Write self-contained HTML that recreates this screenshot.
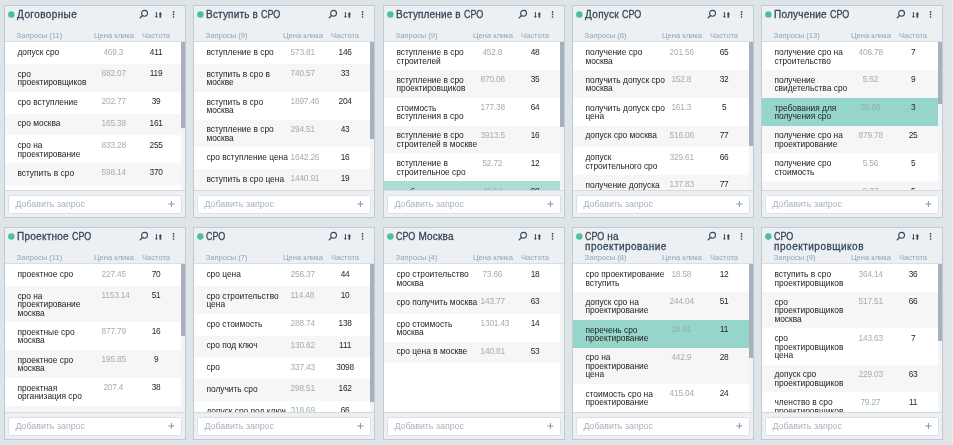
<!DOCTYPE html>
<html lang="ru"><head><meta charset="utf-8"><title>Группы запросов</title>
<style>
html,body{margin:0;padding:0}
body{width:953px;height:445px;overflow:hidden;background:#dde5e9;font-family:"Liberation Sans",sans-serif;position:relative}
.card{position:absolute;box-sizing:border-box;width:182px;height:213px;border:1px solid #c1c9d2;background:#edf0f2;overflow:hidden}
.dot{position:absolute;left:2px;top:4px}
.title{position:absolute;left:12.1px;top:4px;width:125px;font-size:10px;line-height:10.4px;color:#33465a;-webkit-text-stroke:0.27px #33465a;white-space:nowrap}
.c{display:inline-block;transform:scaleX(0.9);transform-origin:0 50%;margin-right:-2.15px}
.ic{position:absolute;left:132px;top:1px}
.hd{position:absolute;left:0;top:0;right:0;height:35.3px;border-bottom:1px solid #d8dee4;font-size:7.6px;color:#95a2b2}
.hd span{position:absolute;top:24.6px;line-height:9px;white-space:nowrap}
.h1{left:11.6px}
.h2{left:79px;width:60px;text-align:center}
.h3{left:121px;width:60px;text-align:center}
.list{position:absolute;left:0;top:36.3px;right:3.6px;height:147.7px;background:#fff;overflow:hidden}
.row{display:flex;align-items:flex-start;box-sizing:border-box;background:#fff;font-size:8.4px;line-height:8.4px;color:#222;padding:5.5px 0 5.2px 0;min-height:21.75px}
.row.alt{background:#f6f6f6}
.row.hl{background:#95d5ca}
.row.hl2{background:#a9dcd5}
.row.last{padding-top:6.3px}
.q{padding-top:0.3px;margin-left:12.4px;width:84.15px;white-space:nowrap}
.p{width:23.7px;text-align:center;white-space:nowrap;color:#a1aeae;margin-left:0;font-size:8.3px;letter-spacing:-0.18px;margin-top:-0.3px}
.f{width:40px;text-align:center;margin-left:10.9px;color:#262626;font-size:8.3px;letter-spacing:-0.18px;margin-top:-0.3px}
.row.hl .p,.row.hl2 .p{color:#8db3ab}
.thumb{position:absolute;right:0;top:36.3px;width:3.6px;background:#a7b0bc}
.track{position:absolute;right:0;top:36.3px;width:3.6px;height:147.7px;background:#f2f3f5}
.ft{position:absolute;left:0;right:0;top:184px;bottom:0;border-top:1px solid #d2d9df}
.inp{position:absolute;left:3.4px;right:2.7px;top:4px;height:18.6px;box-sizing:border-box;border:1px solid #dbe0e6;border-radius:2.5px;background:#fff}
.ph{position:absolute;left:6px;top:3.4px;font-size:8.85px;line-height:10px;color:#a9b1ba}
.plus{position:absolute;left:157.7px;top:3.9px}
.edge{position:absolute;right:0;top:0;width:1.5px;height:445px;background:#e7ecf0}
</style></head><body>
<div class="card" style="left:4px;top:5px;width:182px">
<svg class="dot" width="10" height="10" viewBox="0 0 10 10"><circle cx="4.35" cy="4.47" r="3.25" fill="#4fbf9a"/></svg><div class="title"><span style="letter-spacing:.4px">Договорные</span></div><svg class="ic" viewBox="0 0 44 16" width="44" height="16"><g fill="none" stroke="#34475c"><circle cx="7.56" cy="6.32" r="2.95" stroke-width="1.05"/><path d="M5.3 8.7 L3.2 10.9" stroke-width="1.3" stroke-linecap="round"/></g><g fill="#34475c"><path d="M18.9 5.1h1v4.1h1l-1.5 1.8-1.5-1.8h1z"/><path d="M22.5 10.7h1.7V7.3h0.9l-1.75-2.2-1.75 2.2h0.9z"/><rect x="35.8" y="4.05" width="1.45" height="1.6" rx="0.3"/><rect x="35.8" y="6.55" width="1.45" height="1.6" rx="0.3"/><rect x="35.8" y="9.15" width="1.45" height="1.6" rx="0.3"/></g></svg>
<div class="hd"><span class="h1">Запросы (11)</span><span class="h2">Цена клика</span><span class="h3">Частота</span></div>
<div class="list">
<div class="row"><div class="q">допуск сро</div><div class="p">469.3</div><div class="f">411</div></div>
<div class="row alt"><div class="q">сро<br>проектировщиков</div><div class="p">682.07</div><div class="f">119</div></div>
<div class="row"><div class="q">сро вступление</div><div class="p">202.77</div><div class="f">39</div></div>
<div class="row alt"><div class="q">сро москва</div><div class="p">165.38</div><div class="f">161</div></div>
<div class="row"><div class="q">сро на<br>проектирование</div><div class="p">833.28</div><div class="f">255</div></div>
<div class="row alt"><div class="q">вступить в сро</div><div class="p">598.14</div><div class="f">370</div></div>
<div class="row"><div class="q">сро проектирование</div><div class="p">221.5</div><div class="f">84</div></div>
</div>
<div class="track"></div>
<div class="thumb" style="height:86px"></div>
<div class="ft"><div class="inp"><span class="ph">Добавить запрос</span><svg class="plus" width="8" height="8" viewBox="0 0 8 8"><path d="M4.4 1v6M1.4 4h6" stroke="#8795a8" stroke-width="1" fill="none"/></svg></div></div>
</div>
<div class="card" style="left:193px;top:5px;width:182px">
<svg class="dot" width="10" height="10" viewBox="0 0 10 10"><circle cx="4.35" cy="4.47" r="3.25" fill="#4fbf9a"/></svg><div class="title"><span style="letter-spacing:.16px">Вступить в </span><span class=c>СРО</span></div><svg class="ic" viewBox="0 0 44 16" width="44" height="16"><g fill="none" stroke="#34475c"><circle cx="7.56" cy="6.32" r="2.95" stroke-width="1.05"/><path d="M5.3 8.7 L3.2 10.9" stroke-width="1.3" stroke-linecap="round"/></g><g fill="#34475c"><path d="M18.9 5.1h1v4.1h1l-1.5 1.8-1.5-1.8h1z"/><path d="M22.5 10.7h1.7V7.3h0.9l-1.75-2.2-1.75 2.2h0.9z"/><rect x="35.8" y="4.05" width="1.45" height="1.6" rx="0.3"/><rect x="35.8" y="6.55" width="1.45" height="1.6" rx="0.3"/><rect x="35.8" y="9.15" width="1.45" height="1.6" rx="0.3"/></g></svg>
<div class="hd"><span class="h1">Запросы (9)</span><span class="h2">Цена клика</span><span class="h3">Частота</span></div>
<div class="list">
<div class="row"><div class="q">вступление в сро</div><div class="p">573.81</div><div class="f">146</div></div>
<div class="row alt"><div class="q">вступить в сро в<br>москве</div><div class="p">740.57</div><div class="f">33</div></div>
<div class="row"><div class="q">вступить в сро<br>москва</div><div class="p">1897.46</div><div class="f">204</div></div>
<div class="row alt"><div class="q">вступление в сро<br>москва</div><div class="p">294.51</div><div class="f">43</div></div>
<div class="row"><div class="q">сро вступление цена</div><div class="p">1642.26</div><div class="f">16</div></div>
<div class="row alt"><div class="q">вступить в сро цена</div><div class="p">1440.91</div><div class="f">19</div></div>
<div class="row"><div class="q">вступить в сро<br>стоимость</div><div class="p">310.2</div><div class="f">27</div></div>
</div>
<div class="track"></div>
<div class="thumb" style="height:97px"></div>
<div class="ft"><div class="inp"><span class="ph">Добавить запрос</span><svg class="plus" width="8" height="8" viewBox="0 0 8 8"><path d="M4.4 1v6M1.4 4h6" stroke="#8795a8" stroke-width="1" fill="none"/></svg></div></div>
</div>
<div class="card" style="left:383px;top:5px;width:182px">
<svg class="dot" width="10" height="10" viewBox="0 0 10 10"><circle cx="4.35" cy="4.47" r="3.25" fill="#4fbf9a"/></svg><div class="title"><span style="letter-spacing:.14px">Вступление в </span><span class=c>СРО</span></div><svg class="ic" viewBox="0 0 44 16" width="44" height="16"><g fill="none" stroke="#34475c"><circle cx="7.56" cy="6.32" r="2.95" stroke-width="1.05"/><path d="M5.3 8.7 L3.2 10.9" stroke-width="1.3" stroke-linecap="round"/></g><g fill="#34475c"><path d="M18.9 5.1h1v4.1h1l-1.5 1.8-1.5-1.8h1z"/><path d="M22.5 10.7h1.7V7.3h0.9l-1.75-2.2-1.75 2.2h0.9z"/><rect x="35.8" y="4.05" width="1.45" height="1.6" rx="0.3"/><rect x="35.8" y="6.55" width="1.45" height="1.6" rx="0.3"/><rect x="35.8" y="9.15" width="1.45" height="1.6" rx="0.3"/></g></svg>
<div class="hd"><span class="h1">Запросы (9)</span><span class="h2">Цена клика</span><span class="h3">Частота</span></div>
<div class="list">
<div class="row"><div class="q">вступление в сро<br>строителей</div><div class="p">452.8</div><div class="f">48</div></div>
<div class="row alt"><div class="q">вступление в сро<br>проектировщиков</div><div class="p">870.06</div><div class="f">35</div></div>
<div class="row"><div class="q">стоимость<br>вступления в сро</div><div class="p">177.38</div><div class="f">64</div></div>
<div class="row alt"><div class="q">вступление в сро<br>строителей в москве</div><div class="p">3913.5</div><div class="f">16</div></div>
<div class="row"><div class="q">вступление в<br>строительное сро</div><div class="p">52.72</div><div class="f">12</div></div>
<div class="row alt hl2 last"><div class="q">особенности<br>вступления в сро</div><div class="p">46.14</div><div class="f">98</div></div>
</div>
<div class="track"></div>
<div class="thumb" style="height:85px"></div>
<div class="ft"><div class="inp"><span class="ph">Добавить запрос</span><svg class="plus" width="8" height="8" viewBox="0 0 8 8"><path d="M4.4 1v6M1.4 4h6" stroke="#8795a8" stroke-width="1" fill="none"/></svg></div></div>
</div>
<div class="card" style="left:572px;top:5px;width:182px">
<svg class="dot" width="10" height="10" viewBox="0 0 10 10"><circle cx="4.35" cy="4.47" r="3.25" fill="#4fbf9a"/></svg><div class="title"><span style="letter-spacing:.3px">Допуск </span><span class=c>СРО</span></div><svg class="ic" viewBox="0 0 44 16" width="44" height="16"><g fill="none" stroke="#34475c"><circle cx="7.56" cy="6.32" r="2.95" stroke-width="1.05"/><path d="M5.3 8.7 L3.2 10.9" stroke-width="1.3" stroke-linecap="round"/></g><g fill="#34475c"><path d="M18.9 5.1h1v4.1h1l-1.5 1.8-1.5-1.8h1z"/><path d="M22.5 10.7h1.7V7.3h0.9l-1.75-2.2-1.75 2.2h0.9z"/><rect x="35.8" y="4.05" width="1.45" height="1.6" rx="0.3"/><rect x="35.8" y="6.55" width="1.45" height="1.6" rx="0.3"/><rect x="35.8" y="9.15" width="1.45" height="1.6" rx="0.3"/></g></svg>
<div class="hd"><span class="h1">Запросы (8)</span><span class="h2">Цена клика</span><span class="h3">Частота</span></div>
<div class="list">
<div class="row"><div class="q">получение сро<br>москва</div><div class="p">201.56</div><div class="f">65</div></div>
<div class="row alt"><div class="q">получить допуск сро<br>москва</div><div class="p">152.8</div><div class="f">32</div></div>
<div class="row"><div class="q">получить допуск сро<br>цена</div><div class="p">161.3</div><div class="f">5</div></div>
<div class="row alt"><div class="q">допуск сро москва</div><div class="p">516.06</div><div class="f">77</div></div>
<div class="row"><div class="q">допуск<br>строительного сро</div><div class="p">329.61</div><div class="f">66</div></div>
<div class="row alt"><div class="q">получение допуска<br>сро</div><div class="p">137.83</div><div class="f">77</div></div>
</div>
<div class="track"></div>
<div class="thumb" style="height:104px"></div>
<div class="ft"><div class="inp"><span class="ph">Добавить запрос</span><svg class="plus" width="8" height="8" viewBox="0 0 8 8"><path d="M4.4 1v6M1.4 4h6" stroke="#8795a8" stroke-width="1" fill="none"/></svg></div></div>
</div>
<div class="card" style="left:761px;top:5px;width:182px">
<svg class="dot" width="10" height="10" viewBox="0 0 10 10"><circle cx="4.35" cy="4.47" r="3.25" fill="#4fbf9a"/></svg><div class="title"><span style="letter-spacing:.2px">Получение </span><span class=c>СРО</span></div><svg class="ic" viewBox="0 0 44 16" width="44" height="16"><g fill="none" stroke="#34475c"><circle cx="7.56" cy="6.32" r="2.95" stroke-width="1.05"/><path d="M5.3 8.7 L3.2 10.9" stroke-width="1.3" stroke-linecap="round"/></g><g fill="#34475c"><path d="M18.9 5.1h1v4.1h1l-1.5 1.8-1.5-1.8h1z"/><path d="M22.5 10.7h1.7V7.3h0.9l-1.75-2.2-1.75 2.2h0.9z"/><rect x="35.8" y="4.05" width="1.45" height="1.6" rx="0.3"/><rect x="35.8" y="6.55" width="1.45" height="1.6" rx="0.3"/><rect x="35.8" y="9.15" width="1.45" height="1.6" rx="0.3"/></g></svg>
<div class="hd"><span class="h1">Запросы (13)</span><span class="h2">Цена клика</span><span class="h3">Частота</span></div>
<div class="list">
<div class="row"><div class="q">получение сро на<br>строительство</div><div class="p">406.78</div><div class="f">7</div></div>
<div class="row alt"><div class="q">получение<br>свидетельства сро</div><div class="p">5.62</div><div class="f">9</div></div>
<div class="row hl"><div class="q">требования для<br>получения сро</div><div class="p">25.68</div><div class="f">3</div></div>
<div class="row alt"><div class="q">получение сро на<br>проектирование</div><div class="p">879.78</div><div class="f">25</div></div>
<div class="row"><div class="q">получение сро<br>стоимость</div><div class="p">5.56</div><div class="f">5</div></div>
<div class="row alt last"><div class="q">получение сро<br>цена</div><div class="p">9.37</div><div class="f">5</div></div>
</div>
<div class="track"></div>
<div class="thumb" style="height:62px"></div>
<div class="ft"><div class="inp"><span class="ph">Добавить запрос</span><svg class="plus" width="8" height="8" viewBox="0 0 8 8"><path d="M4.4 1v6M1.4 4h6" stroke="#8795a8" stroke-width="1" fill="none"/></svg></div></div>
</div>
<div class="card" style="left:4px;top:227px;width:182px">
<svg class="dot" width="10" height="10" viewBox="0 0 10 10"><circle cx="4.35" cy="4.47" r="3.25" fill="#4fbf9a"/></svg><div class="title"><span style="letter-spacing:.24px">Проектное </span><span class=c>СРО</span></div><svg class="ic" viewBox="0 0 44 16" width="44" height="16"><g fill="none" stroke="#34475c"><circle cx="7.56" cy="6.32" r="2.95" stroke-width="1.05"/><path d="M5.3 8.7 L3.2 10.9" stroke-width="1.3" stroke-linecap="round"/></g><g fill="#34475c"><path d="M18.9 5.1h1v4.1h1l-1.5 1.8-1.5-1.8h1z"/><path d="M22.5 10.7h1.7V7.3h0.9l-1.75-2.2-1.75 2.2h0.9z"/><rect x="35.8" y="4.05" width="1.45" height="1.6" rx="0.3"/><rect x="35.8" y="6.55" width="1.45" height="1.6" rx="0.3"/><rect x="35.8" y="9.15" width="1.45" height="1.6" rx="0.3"/></g></svg>
<div class="hd"><span class="h1">Запросы (11)</span><span class="h2">Цена клика</span><span class="h3">Частота</span></div>
<div class="list">
<div class="row"><div class="q">проектное сро</div><div class="p">227.45</div><div class="f">70</div></div>
<div class="row alt"><div class="q">сро на<br>проектирование<br>москва</div><div class="p">1153.14</div><div class="f">51</div></div>
<div class="row"><div class="q">проектные сро<br>москва</div><div class="p">877.79</div><div class="f">16</div></div>
<div class="row alt"><div class="q">проектное сро<br>москва</div><div class="p">195.85</div><div class="f">9</div></div>
<div class="row"><div class="q">проектная<br>организация сро</div><div class="p">207.4</div><div class="f">38</div></div>
<div class="row alt"><div class="q"></div><div class="p"></div><div class="f"></div></div>
</div>
<div class="track"></div>
<div class="thumb" style="height:72px"></div>
<div class="ft"><div class="inp"><span class="ph">Добавить запрос</span><svg class="plus" width="8" height="8" viewBox="0 0 8 8"><path d="M4.4 1v6M1.4 4h6" stroke="#8795a8" stroke-width="1" fill="none"/></svg></div></div>
</div>
<div class="card" style="left:193px;top:227px;width:182px">
<svg class="dot" width="10" height="10" viewBox="0 0 10 10"><circle cx="4.35" cy="4.47" r="3.25" fill="#4fbf9a"/></svg><div class="title"><span class=c>СРО</span></div><svg class="ic" viewBox="0 0 44 16" width="44" height="16"><g fill="none" stroke="#34475c"><circle cx="7.56" cy="6.32" r="2.95" stroke-width="1.05"/><path d="M5.3 8.7 L3.2 10.9" stroke-width="1.3" stroke-linecap="round"/></g><g fill="#34475c"><path d="M18.9 5.1h1v4.1h1l-1.5 1.8-1.5-1.8h1z"/><path d="M22.5 10.7h1.7V7.3h0.9l-1.75-2.2-1.75 2.2h0.9z"/><rect x="35.8" y="4.05" width="1.45" height="1.6" rx="0.3"/><rect x="35.8" y="6.55" width="1.45" height="1.6" rx="0.3"/><rect x="35.8" y="9.15" width="1.45" height="1.6" rx="0.3"/></g></svg>
<div class="hd"><span class="h1">Запросы (7)</span><span class="h2">Цена клика</span><span class="h3">Частота</span></div>
<div class="list">
<div class="row"><div class="q">сро цена</div><div class="p">256.37</div><div class="f">44</div></div>
<div class="row alt"><div class="q">сро строительство<br>цена</div><div class="p">114.48</div><div class="f">10</div></div>
<div class="row"><div class="q">сро стоимость</div><div class="p">288.74</div><div class="f">138</div></div>
<div class="row alt"><div class="q">сро под ключ</div><div class="p">130.62</div><div class="f">111</div></div>
<div class="row"><div class="q">сро</div><div class="p">337.43</div><div class="f">3098</div></div>
<div class="row alt"><div class="q">получить сро</div><div class="p">298.51</div><div class="f">162</div></div>
<div class="row"><div class="q">допуск сро под ключ</div><div class="p">318.69</div><div class="f">66</div></div>
</div>
<div class="track"></div>
<div class="thumb" style="height:138px"></div>
<div class="ft"><div class="inp"><span class="ph">Добавить запрос</span><svg class="plus" width="8" height="8" viewBox="0 0 8 8"><path d="M4.4 1v6M1.4 4h6" stroke="#8795a8" stroke-width="1" fill="none"/></svg></div></div>
</div>
<div class="card" style="left:383px;top:227px;width:182px">
<svg class="dot" width="10" height="10" viewBox="0 0 10 10"><circle cx="4.35" cy="4.47" r="3.25" fill="#4fbf9a"/></svg><div class="title"><span class=c>СРО</span><span style="letter-spacing:.21px"> Москва</span></div><svg class="ic" viewBox="0 0 44 16" width="44" height="16"><g fill="none" stroke="#34475c"><circle cx="7.56" cy="6.32" r="2.95" stroke-width="1.05"/><path d="M5.3 8.7 L3.2 10.9" stroke-width="1.3" stroke-linecap="round"/></g><g fill="#34475c"><path d="M18.9 5.1h1v4.1h1l-1.5 1.8-1.5-1.8h1z"/><path d="M22.5 10.7h1.7V7.3h0.9l-1.75-2.2-1.75 2.2h0.9z"/><rect x="35.8" y="4.05" width="1.45" height="1.6" rx="0.3"/><rect x="35.8" y="6.55" width="1.45" height="1.6" rx="0.3"/><rect x="35.8" y="9.15" width="1.45" height="1.6" rx="0.3"/></g></svg>
<div class="hd"><span class="h1">Запросы (4)</span><span class="h2">Цена клика</span><span class="h3">Частота</span></div>
<div class="list">
<div class="row"><div class="q">сро строительство<br>москва</div><div class="p">73.66</div><div class="f">18</div></div>
<div class="row alt"><div class="q">сро получить москва</div><div class="p">143.77</div><div class="f">63</div></div>
<div class="row"><div class="q">сро стоимость<br>москва</div><div class="p">1301.43</div><div class="f">14</div></div>
<div class="row alt"><div class="q">сро цена в москве</div><div class="p">140.81</div><div class="f">53</div></div>
</div>
<div class="track"></div>
<div class="ft"><div class="inp"><span class="ph">Добавить запрос</span><svg class="plus" width="8" height="8" viewBox="0 0 8 8"><path d="M4.4 1v6M1.4 4h6" stroke="#8795a8" stroke-width="1" fill="none"/></svg></div></div>
</div>
<div class="card" style="left:572px;top:227px;width:182px">
<svg class="dot" width="10" height="10" viewBox="0 0 10 10"><circle cx="4.35" cy="4.47" r="3.25" fill="#4fbf9a"/></svg><div class="title"><span class=c>СРО</span><span style="letter-spacing:.18px"> на</span><br><span style="letter-spacing:.45px">проектирование</span></div><svg class="ic" viewBox="0 0 44 16" width="44" height="16"><g fill="none" stroke="#34475c"><circle cx="7.56" cy="6.32" r="2.95" stroke-width="1.05"/><path d="M5.3 8.7 L3.2 10.9" stroke-width="1.3" stroke-linecap="round"/></g><g fill="#34475c"><path d="M18.9 5.1h1v4.1h1l-1.5 1.8-1.5-1.8h1z"/><path d="M22.5 10.7h1.7V7.3h0.9l-1.75-2.2-1.75 2.2h0.9z"/><rect x="35.8" y="4.05" width="1.45" height="1.6" rx="0.3"/><rect x="35.8" y="6.55" width="1.45" height="1.6" rx="0.3"/><rect x="35.8" y="9.15" width="1.45" height="1.6" rx="0.3"/></g></svg>
<div class="hd"><span class="h1">Запросы (8)</span><span class="h2">Цена клика</span><span class="h3">Частота</span></div>
<div class="list">
<div class="row"><div class="q">сро проектирование<br>вступить</div><div class="p">18.58</div><div class="f">12</div></div>
<div class="row alt"><div class="q">допуск сро на<br>проектирование</div><div class="p">244.04</div><div class="f">51</div></div>
<div class="row hl"><div class="q">перечень сро<br>проектирование</div><div class="p">29.91</div><div class="f">11</div></div>
<div class="row alt"><div class="q">сро на<br>проектирование<br>цена</div><div class="p">442.9</div><div class="f">28</div></div>
<div class="row"><div class="q">стоимость сро на<br>проектирование</div><div class="p">415.04</div><div class="f">24</div></div>
</div>
<div class="track"></div>
<div class="thumb" style="height:94px"></div>
<div class="ft"><div class="inp"><span class="ph">Добавить запрос</span><svg class="plus" width="8" height="8" viewBox="0 0 8 8"><path d="M4.4 1v6M1.4 4h6" stroke="#8795a8" stroke-width="1" fill="none"/></svg></div></div>
</div>
<div class="card" style="left:761px;top:227px;width:182px">
<svg class="dot" width="10" height="10" viewBox="0 0 10 10"><circle cx="4.35" cy="4.47" r="3.25" fill="#4fbf9a"/></svg><div class="title"><span class=c>СРО</span><br><span style="letter-spacing:.5px">проектировщиков</span></div><svg class="ic" viewBox="0 0 44 16" width="44" height="16"><g fill="none" stroke="#34475c"><circle cx="7.56" cy="6.32" r="2.95" stroke-width="1.05"/><path d="M5.3 8.7 L3.2 10.9" stroke-width="1.3" stroke-linecap="round"/></g><g fill="#34475c"><path d="M18.9 5.1h1v4.1h1l-1.5 1.8-1.5-1.8h1z"/><path d="M22.5 10.7h1.7V7.3h0.9l-1.75-2.2-1.75 2.2h0.9z"/><rect x="35.8" y="4.05" width="1.45" height="1.6" rx="0.3"/><rect x="35.8" y="6.55" width="1.45" height="1.6" rx="0.3"/><rect x="35.8" y="9.15" width="1.45" height="1.6" rx="0.3"/></g></svg>
<div class="hd"><span class="h1">Запросы (9)</span><span class="h2">Цена клика</span><span class="h3">Частота</span></div>
<div class="list">
<div class="row"><div class="q">вступить в сро<br>проектировщиков</div><div class="p">364.14</div><div class="f">36</div></div>
<div class="row alt"><div class="q">сро<br>проектировщиков<br>москва</div><div class="p">517.51</div><div class="f">66</div></div>
<div class="row"><div class="q">сро<br>проектировщиков<br>цена</div><div class="p">143.63</div><div class="f">7</div></div>
<div class="row alt"><div class="q">допуск сро<br>проектировщиков</div><div class="p">229.03</div><div class="f">63</div></div>
<div class="row"><div class="q">членство в сро<br>проектировщиков</div><div class="p">79.27</div><div class="f">11</div></div>
</div>
<div class="track"></div>
<div class="thumb" style="height:77px"></div>
<div class="ft"><div class="inp"><span class="ph">Добавить запрос</span><svg class="plus" width="8" height="8" viewBox="0 0 8 8"><path d="M4.4 1v6M1.4 4h6" stroke="#8795a8" stroke-width="1" fill="none"/></svg></div></div>
</div>
<div class="edge"></div>
</body></html>
